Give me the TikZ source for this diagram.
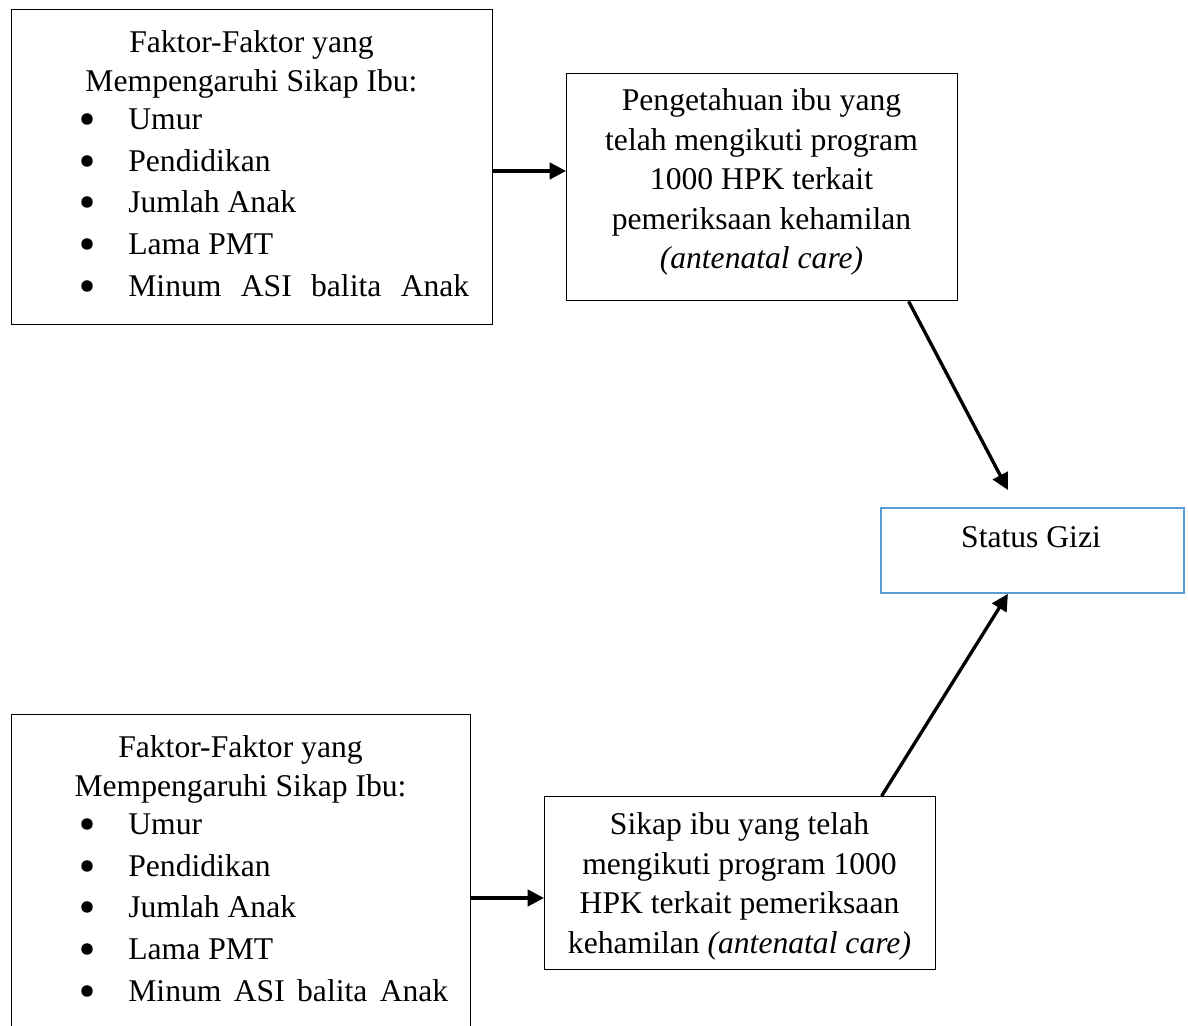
\documentclass[tikz,border=0pt]{standalone}
\usepackage{fontspec}
\setmainfont{Liberation Serif}
\usetikzlibrary{arrows.meta}
\definecolor{birugizi}{HTML}{5B9BD5}
\tikzset{
  kotak/.style={draw, line width=0.8pt, inner sep=0pt, anchor=north west},
  teks/.style={anchor=base, inner sep=0pt, font=\fontsize{18}{22}\selectfont},
  teksL/.style={teks, anchor=base west},
  titik/.style={circle, fill, inner sep=0pt, minimum size=0.23cm},
  panah/.style={line width=1.9pt, -{Triangle[length=0.33cm, width=0.33cm]}},
}
\begin{document}
\begin{tikzpicture}[x=0.02cm, y=-0.02cm]
\clip (0,0) rectangle (1188,1026);
% kotak
\node[kotak, minimum width=9.62cm, minimum height=6.30cm] (fak1) at (11,9){};
\node[kotak, minimum width=7.82cm, minimum height=4.54cm] (tahu) at (566,73){};
\node[kotak, draw=birugizi, line width=1.1pt, minimum width=6.06cm, minimum height=1.70cm] (gizi) at (880,507){};
\node[kotak, minimum width=9.18cm, minimum height=6.60cm] (fak2) at (11,714){};
\node[kotak, minimum width=7.82cm, minimum height=3.46cm] (sikap) at (544,796){};
% faktor atas
\node[teks] (f1a) at (251.5,53){Faktor-Faktor yang};
\node[teks] (f1b) at (251.5,92){Mempengaruhi Sikap Ibu:};
\node[titik] (f1d1) at (87,119){};
\node[teksL] (f1i1) at (128,130){Umur};
\node[titik] (f1d2) at (87,161){};
\node[teksL] (f1i2) at (128,172){Pendidikan};
\node[titik] (f1d3) at (87,202){};
\node[teksL] (f1i3) at (128,213){Jumlah Anak};
\node[titik] (f1d4) at (87,244){};
\node[teksL] (f1i4) at (128,255){Lama PMT};
\node[titik] (f1d5) at (87,286){};
\node[teksL] (f1i5) at (128,297){\makebox[6.82cm][s]{Minum ASI balita Anak}};
% pengetahuan
\node[teks] (p1) at (761.5,111){Pengetahuan ibu yang};
\node[teks] (p2) at (761.5,150.5){telah mengikuti program};
\node[teks] (p3) at (761.5,190){1000 HPK terkait};
\node[teks] (p4) at (761.5,229.5){pemeriksaan kehamilan};
\node[teks] (p5) at (761.5,269){\textit{(antenatal care)}};
% status gizi
\node[teks] (g1) at (1031,548){Status Gizi};
% faktor bawah
\node[teks] (f2a) at (240.5,758){Faktor-Faktor yang};
\node[teks] (f2b) at (240.5,797){Mempengaruhi Sikap Ibu:};
\node[titik] (f2d1) at (87,824){};
\node[teksL] (f2i1) at (128,835){Umur};
\node[titik] (f2d2) at (87,866){};
\node[teksL] (f2i2) at (128,877){Pendidikan};
\node[titik] (f2d3) at (87,907){};
\node[teksL] (f2i3) at (128,918){Jumlah Anak};
\node[titik] (f2d4) at (87,949){};
\node[teksL] (f2i4) at (128,960){Lama PMT};
\node[titik] (f2d5) at (87,991){};
\node[teksL] (f2i5) at (128,1002){\makebox[6.4cm][s]{Minum ASI balita Anak}};
% sikap
\node[teks] (s1) at (739.5,835){Sikap ibu yang telah};
\node[teks] (s2) at (739.5,874.5){mengikuti program 1000};
\node[teks] (s3) at (739.5,914){HPK terkait pemeriksaan};
\node[teks] (s4) at (739.5,953.5){kehamilan \textit{(antenatal care)}};
% panah
\draw[panah](fak1.east |- 0,171) -- (tahu.west |- 0,171);
\draw[panah](fak2.east |- 0,898) -- (sikap.west |- 0,898);
\draw[panah]([xshift=2.93cm]tahu.south) -- ([xshift=-0.49cm, yshift=0.34cm]gizi.north);
\draw[panah]([xshift=2.83cm]sikap.north) -- ([xshift=-0.49cm]gizi.south);
\end{tikzpicture}
\end{document}
